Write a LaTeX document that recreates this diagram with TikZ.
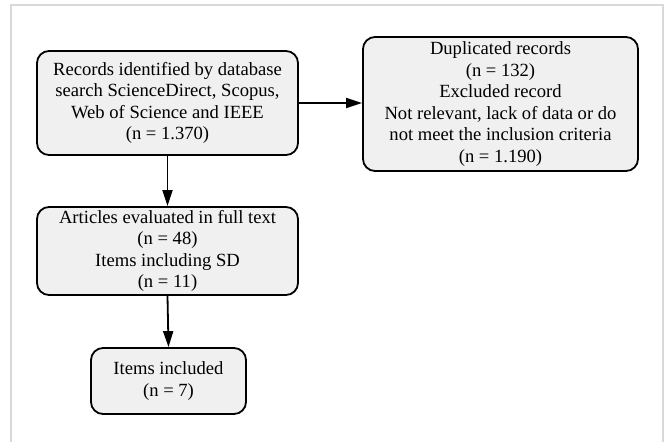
\documentclass[tikz,border=0pt]{standalone}
\usepackage{fontspec}
\setmainfont{Liberation Serif}
\usetikzlibrary{arrows.meta}
\definecolor{boxfill}{HTML}{F0F0F0}
\definecolor{framegray}{HTML}{D9D9D9}
\tikzset{
  flowbox/.style={draw=black, line width=1.8pt, fill=boxfill, rounded corners=12pt,
    align=center, inner sep=0pt, font=\fontsize{18.6}{21.6}\selectfont},
  flowarrow/.style={line width=1.8pt, -{Triangle[length=16pt,width=10pt]}}
}
\begin{document}
\begin{tikzpicture}[x=1pt,y=-1pt]
\useasboundingbox (0,0) rectangle (665,442);
\draw[framegray, line width=1.5pt] (11,460) -- (11,5) -- (663,5) -- (663,460);
\node[flowbox, minimum width=261pt, minimum height=104pt] (rec) at (167.5,103)
  {Records identified by database\\search ScienceDirect, Scopus,\\Web of Science and IEEE\\(n = 1.370)};
\node[flowbox, minimum width=275pt, minimum height=134pt] (dup) at (500.5,104)
  {Duplicated records\\(n = 132)\\Excluded record\\Not relevant, lack of data or do\\not meet the inclusion criteria\\(n = 1.190)};
\node[flowbox, minimum width=261pt, minimum height=88pt] (art) at (167.5,251)
  {Articles evaluated in full text\\(n = 48)\\Items including SD\\(n = 11)};
\node[flowbox, minimum width=155pt, minimum height=66pt] (inc) at (168.5,381)
  {Items included\\(n = 7)};
\draw[flowarrow] (rec.east) -- (dup.west |- rec.east);
\draw[flowarrow] (rec.south) -- (art.north);
\draw[flowarrow] (art.south) -- (inc.north);
\end{tikzpicture}
\end{document}
